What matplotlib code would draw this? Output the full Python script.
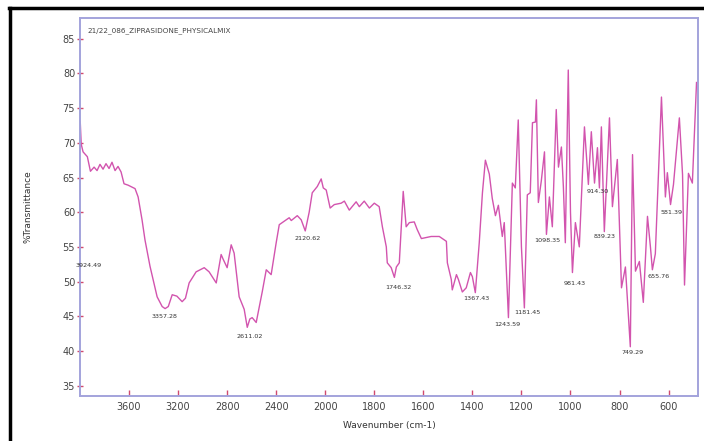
"""
FTIR spectrum of the ziprasidone physical mix, redrawn from the instrument
printout. The axis has a scale change at 2000 cm-1 (2x compression above).
"""

import numpy as np
import matplotlib
matplotlib.use("Agg")
import matplotlib.pyplot as plt
from matplotlib.lines import Line2D

TITLE = "21/22_086_ZIPRASIDONE_PHYSICALMIX"

# wavenumber (cm-1) and %T
wavenumber = [
    3998, 3990, 3975, 3940, 3915, 3885, 3861, 3837, 3812, 3788, 3763, 3739,
    3714, 3690, 3665, 3641, 3608, 3551, 3526, 3494, 3470, 3429, 3371, 3330,
    3306, 3280, 3248, 3210, 3167, 3140, 3110, 3053, 2987, 2947, 2889, 2849,
    2832, 2800, 2767, 2743, 2702, 2661, 2636, 2615, 2596, 2563, 2514, 2481,
    2441, 2400, 2375, 2318, 2294, 2277, 2228, 2196, 2163, 2131, 2106, 2065,
    2033, 2016, 1996, 1980, 1963, 1935, 1922, 1902, 1874, 1861, 1841, 1820,
    1800, 1780, 1767, 1751, 1747, 1731, 1718, 1710, 1698, 1690, 1682, 1670,
    1657, 1637, 1625, 1608, 1568, 1535, 1506, 1502, 1486, 1482, 1465, 1457,
    1441, 1425, 1408, 1400, 1388, 1372, 1359, 1347, 1331, 1319, 1306, 1294,
    1278, 1270, 1253, 1237, 1225, 1213, 1200, 1188, 1176, 1164, 1155, 1143,
    1139, 1131, 1119, 1106, 1098, 1086, 1074, 1058, 1049, 1037, 1029, 1021,
    1009, 1000, 992, 980, 964, 943, 927, 915, 902, 890, 882, 874,
    862, 841, 829, 809, 792, 776, 756, 747, 735, 719, 703, 686,
    674, 666, 654, 629, 613, 605, 592, 580, 556, 543, 535, 519,
    503, 486,
]
transmittance = [
    73.0, 69.8, 68.7, 68.0, 65.9, 66.5, 66.0, 66.9, 66.2, 67.0, 66.3, 67.2,
    66.0, 66.6, 65.8, 64.1, 63.9, 63.4, 62.2, 58.9, 56.0, 52.2, 47.8, 46.4,
    46.1, 46.4, 48.1, 47.9, 47.1, 47.6, 49.8, 51.4, 52.0, 51.4, 49.8, 53.9,
    53.2, 52.0, 55.3, 54.1, 47.8, 46.0, 43.4, 44.6, 44.8, 44.1, 48.5, 51.7,
    51.0, 55.6, 58.2, 58.9, 59.2, 58.8, 59.5, 58.9, 57.3, 60.0, 62.8, 63.7,
    64.8, 63.5, 63.2, 60.6, 61.1, 61.3, 61.6, 60.3, 61.5, 60.8, 61.6, 60.6,
    61.3, 60.8, 57.9, 55.0, 52.7, 52.0, 50.6, 52.1, 52.7, 57.9, 63.0, 57.9,
    58.5, 58.6, 57.5, 56.2, 56.5, 56.5, 55.8, 52.7, 50.3, 48.8, 51.0, 50.3,
    48.5, 49.1, 51.3, 50.7, 48.4, 55.6, 62.8, 67.5, 65.5, 62.0, 59.5, 61.0,
    56.5, 58.5, 44.8, 64.2, 63.5, 73.3, 55.0, 46.2, 62.5, 62.8, 72.9, 73.0,
    76.2, 61.4, 64.5, 68.7, 56.8, 62.2, 57.9, 74.8, 66.5, 69.4, 63.7, 55.6,
    80.5, 60.0, 51.3, 58.5, 55.0, 72.3, 64.0, 71.6, 64.2, 69.3, 63.5, 72.3,
    57.2, 73.6, 60.8, 67.6, 49.1, 52.1, 40.6, 68.3, 51.5, 52.9, 47.0, 59.4,
    55.0, 51.7, 54.0, 76.6, 62.2, 65.7, 61.1, 64.0, 73.6, 65.4, 49.5, 65.6,
    64.2, 78.7,
]

# peak annotations: printed text, anchor wavenumber, anchor %T
peak_text = ["3924.49", "3357.28", "2611.02", "2120.62", "1746.32", "1367.43",
             "1243.59", "1181.45", "1098.35", "981.43", "914.30", "839.23",
             "749.29", "655.76", "581.39"]
peak_wn = [3926, 3310, 2612, 2147, 1702, 1384, 1257, 1176, 1094, 984, 888,
           862, 748, 640, 587]
peak_t = [52.3, 44.9, 42.1, 56.2, 49.1, 47.5, 43.8, 45.5, 55.9, 49.7, 63.0,
          56.5, 39.8, 50.7, 59.9]

xticks = [3600, 3200, 2800, 2400, 2000, 1800, 1600, 1400, 1200, 1000, 800, 600]
yticks = [35, 40, 45, 50, 55, 60, 65, 70, 75, 80, 85]


def fwd(w):
    w = np.asarray(w, dtype=float)
    return np.where(w > 2000, 2000 + (w - 2000) / 2.0, w)


def inv(u):
    u = np.asarray(u, dtype=float)
    return np.where(u > 2000, 2000 + (u - 2000) * 2.0, u)


def main():
    fig = plt.figure(figsize=(7.04, 4.41), dpi=100)
    ax = fig.add_axes([80 / 704, 45 / 441, 618 / 704, 378 / 441])

    ax.set_xscale("function", functions=(fwd, inv))
    ax.plot(wavenumber, transmittance, color="#d254ae", lw=1.0)
    ax.set_xlim(4000, 480)
    ax.set_ylim(33.5, 88)

    ax.set_xticks(xticks)
    ax.set_xticklabels([str(t) for t in xticks])
    ax.set_yticks(yticks)
    ax.minorticks_off()
    ax.tick_params(axis="x", direction="in", length=4, width=1,
                   color="#d04a70", labelsize=7, labelcolor="#444444", pad=4)
    ax.tick_params(axis="y", direction="inout", length=5, width=1,
                   color="#d04a70", labelsize=7, labelcolor="#444444", pad=1)
    for s in ax.spines.values():
        s.set_color("#a3a3dc")
        s.set_linewidth(1.4)

    for txt, w, t in zip(peak_text, peak_wn, peak_t):
        ax.text(w, t, txt, fontsize=4.6, color="#333333", ha="center", va="center")

    ax.text(0.012, 0.975, TITLE, transform=ax.transAxes, fontsize=5.2,
            color="#444444", ha="left", va="top")
    ax.set_xlabel("Wavenumber (cm-1)", fontsize=6.5, color="#333333", labelpad=7)
    ax.set_ylabel("%Transmittance", fontsize=6.5, color="#333333", labelpad=22)

    # black frame of the pasted printout (left and top edges visible)
    fig.add_artist(Line2D([10 / 704, 10 / 704], [0, 1 - 8 / 441],
                          transform=fig.transFigure, color="black", lw=2.5))
    fig.add_artist(Line2D([9 / 704, 1], [1 - 8 / 441, 1 - 8 / 441],
                          transform=fig.transFigure, color="black", lw=2.5))

    fig.savefig("out.png", dpi=100)


if __name__ == "__main__":
    main()
